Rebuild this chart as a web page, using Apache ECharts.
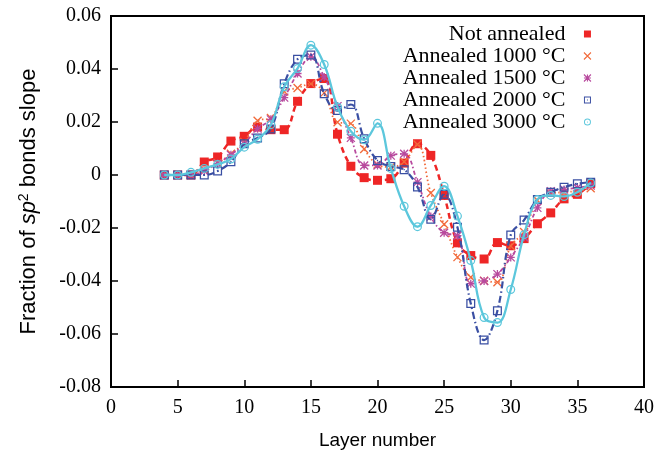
<!DOCTYPE html>
<html>
<head>
<meta charset="utf-8">
<script src="https://cdn.jsdelivr.net/npm/echarts@6/dist/echarts.min.js"></script>
<style>
  html, body { margin: 0; padding: 0; background: #fff; }
  #chart { width: 657px; height: 459px; }
</style>
</head>
<body>
<div id="chart"></div>
<script>
// Layer index (x) and the sp2 bond-fraction slope for each annealing state
const layers = [4, 5, 6, 7, 8, 9, 10, 11, 12, 13, 14, 15, 16, 17, 18, 19, 20,
                21, 22, 23, 24, 25, 26, 27, 28, 29, 30, 31, 32, 33, 34, 35, 36];

const notAnnealed = [0, 0, 0, 0.0049, 0.0068, 0.0128, 0.0146, 0.0181, 0.0171, 0.0171,
  0.0278, 0.0345, 0.0364, 0.0154, 0.0033, -0.0010, -0.0020, -0.0014, 0.0045, 0.0118,
  0.0074, -0.0077, -0.0256, -0.0304, -0.0317, -0.0255, -0.0267, -0.0240, -0.0184,
  -0.0143, -0.0090, -0.0073, -0.0033];

const annealed1000 = [0, 0, 0, 0.0020, 0.0045, 0.0080, 0.0125, 0.0205, 0.0215, 0.0315,
  0.0328, 0.0344, 0.0310, 0.0199, 0.0194, 0.0098, 0.0040, 0.0030, 0.0050, 0.0115,
  -0.0068, -0.0186, -0.0310, -0.0386, -0.0399, -0.0405, -0.0268, -0.0215, -0.0095,
  -0.0070, -0.0065, -0.0060, -0.0050];

const annealed1500 = [0, 0, 0, 0.0015, 0.0043, 0.0076, 0.0118, 0.0175, 0.0210, 0.0292,
  0.0383, 0.0446, 0.0370, 0.0260, 0.0140, 0.0036, 0.0036, 0.0073, 0.0080, -0.0027,
  -0.0157, -0.0218, -0.0229, -0.0410, -0.0400, -0.0374, -0.0311, -0.0235, -0.0124,
  -0.0061, -0.0055, -0.0048, -0.0040];

const annealed2000 = [0, 0, 0, 0, 0.0015, 0.0050, 0.0118, 0.0140, 0.0174, 0.0344,
  0.0437, 0.0453, 0.0307, 0.0243, 0.0266, 0.0137, 0.0055, 0.0032, 0.0020, -0.0045,
  -0.0167, -0.0073, -0.0197, -0.0485, -0.0623, -0.0512, -0.0226, -0.0170, -0.0092,
  -0.0065, -0.0046, -0.0033, -0.0027];

const annealed3000 = [0, 0, 0.0010, 0.0025, 0.0040, 0.0060, 0.0105, 0.0135, 0.0190, 0.0333,
  0.0402, 0.0490, 0.0417, 0.0257, 0.0165, 0.0133, 0.0195, 0.0025, -0.0118, -0.0195,
  -0.0115, -0.0042, -0.0155, -0.0323, -0.0538, -0.0557, -0.0432, -0.0225, -0.0092,
  -0.0077, -0.0081, -0.0065, -0.0030];

const seriesNames = ['Not annealed', 'Annealed 1000 °C', 'Annealed 1500 °C',
                     'Annealed 2000 °C', 'Annealed 3000 °C'];
const seriesValues = [notAnnealed, annealed1000, annealed1500, annealed2000, annealed3000];

// Axis ranges
const xMin = 0, xMax = 40, xStep = 5;
const yMin = -0.08, yMax = 0.06, yStep = 0.02;

// Point markers (gnuplot-like point types)
const SYM_SQUARE = 'path://M0,0H10V10H0Z';
const SYM_X = 'path://M0,0L10,10M10,0L0,10';
const SYM_STAR = 'path://M0,0L10,10M10,0L0,10M5,0L5,10M0,5L10,5';
const SYM_SQUARE_DOT = 'path://M0,0H10V10H0Z M1.4,1.4V8.6H8.6V1.4Z M4.3,4.3H5.7V5.7H4.3Z';
const SYM_CIRCLE_DOT = 'path://M10,5A5,5 0 1 1 0,5A5,5 0 1 1 10,5Z ' +
  'M8.6,5A3.6,3.6 0 1 0 1.4,5A3.6,3.6 0 1 0 8.6,5Z ' +
  'M5.8,5A0.8,0.8 0 1 1 4.2,5A0.8,0.8 0 1 1 5.8,5Z';

const styles = [
  { color: '#ee2626', symbol: SYM_SQUARE, size: 9, border: 0, width: 2.5, type: [6, 4] },
  { color: '#f26a3a', symbol: SYM_X, size: 8, border: 1.3, width: 1.8, type: [1.5, 2.5] },
  { color: '#b84a9e', symbol: SYM_STAR, size: 8, border: 1.3, width: 1.8, type: [4, 2.5, 1.5, 2.5] },
  { color: '#3a4fa3', symbol: SYM_SQUARE_DOT, size: 9, border: 0, width: 2.2, type: [7, 3, 1.5, 3] },
  { color: '#5cc7dc', symbol: SYM_CIRCLE_DOT, size: 9, border: 0, width: 2.3, type: 'solid' }
];

const serif = "'Liberation Serif', 'DejaVu Serif', serif";
const sans = "'Liberation Sans', Arial, sans-serif";

const series = seriesNames.map((name, i) => ({
  name: name,
  type: 'line',
  data: layers.map((l, k) => [l, seriesValues[i][k]]),
  smooth: 0.4,
  symbol: styles[i].symbol,
  symbolSize: styles[i].size,
  showAllSymbol: true,
  itemStyle: {
    color: styles[i].color,
    borderColor: styles[i].color,
    borderWidth: styles[i].border
  },
  lineStyle: {
    color: styles[i].color,
    width: styles[i].width,
    type: styles[i].type
  },
  emphasis: { disabled: true },
  z: 2 + i
}));

const legendData = seriesNames.map((name, i) => ({
  name: name,
  icon: styles[i].symbol,
  itemStyle: {
    color: styles[i].color,
    borderColor: styles[i].color,
    borderWidth: styles[i].border ? 1.1 : 0
  }
}));

const chart = echarts.init(document.getElementById('chart'), null, { renderer: 'canvas' });
chart.setOption({
  animation: false,
  backgroundColor: '#fff',
  grid: {
    left: 111, right: 13, top: 16, bottom: 72,
    show: true, borderColor: '#000', borderWidth: 2, backgroundColor: 'transparent'
  },
  legend: {
    data: legendData,
    orient: 'vertical',
    align: 'right',
    right: 65.5,
    top: 23,
    padding: 0,
    itemGap: 0,
    itemWidth: 30,
    itemHeight: 7,
    selectedMode: false,
    textStyle: {
      fontFamily: serif,
      fontSize: 22,
      color: '#000',
      lineHeight: 21.5,
      padding: [0, 2, 0, 0]
    }
  },
  xAxis: {
    type: 'value',
    min: xMin, max: xMax, interval: xStep,
    name: 'Layer number',
    nameLocation: 'middle',
    nameGap: 44,
    nameTextStyle: { fontFamily: sans, fontSize: 19, color: '#000' },
    axisLine: { show: true, onZero: false, lineStyle: { color: '#000', width: 2 } },
    axisTick: { show: true, inside: true, length: 7, lineStyle: { color: '#000', width: 1.5 } },
    axisLabel: { fontFamily: serif, fontSize: 20, color: '#000', margin: 11 },
    splitLine: { show: false }
  },
  yAxis: {
    type: 'value',
    min: yMin, max: yMax, interval: yStep,
    name: '{t|Fraction of }{i|sp}{s|2}{t| bonds slope}',
    nameLocation: 'middle',
    nameGap: 71,
    nameTextStyle: {
      fontFamily: sans, fontSize: 22, color: '#000',
      rich: {
        t: { fontFamily: sans, fontSize: 22, color: '#000' },
        i: { fontFamily: sans, fontSize: 22, fontStyle: 'italic', color: '#000' },
        s: { fontFamily: sans, fontSize: 14, color: '#000', verticalAlign: 'top', padding: [0, 0, 9, 0] }
      }
    },
    axisLine: { show: true, onZero: false, lineStyle: { color: '#000', width: 2 } },
    axisTick: { show: true, inside: true, length: 7, lineStyle: { color: '#000', width: 1.5 } },
    axisLabel: {
      fontFamily: serif, fontSize: 20, color: '#000', margin: 10,
      formatter: v => (Math.abs(v) < 1e-9 ? '0' : v.toFixed(2))
    },
    splitLine: { show: false }
  },
  series: series
});
</script>
</body>
</html>
